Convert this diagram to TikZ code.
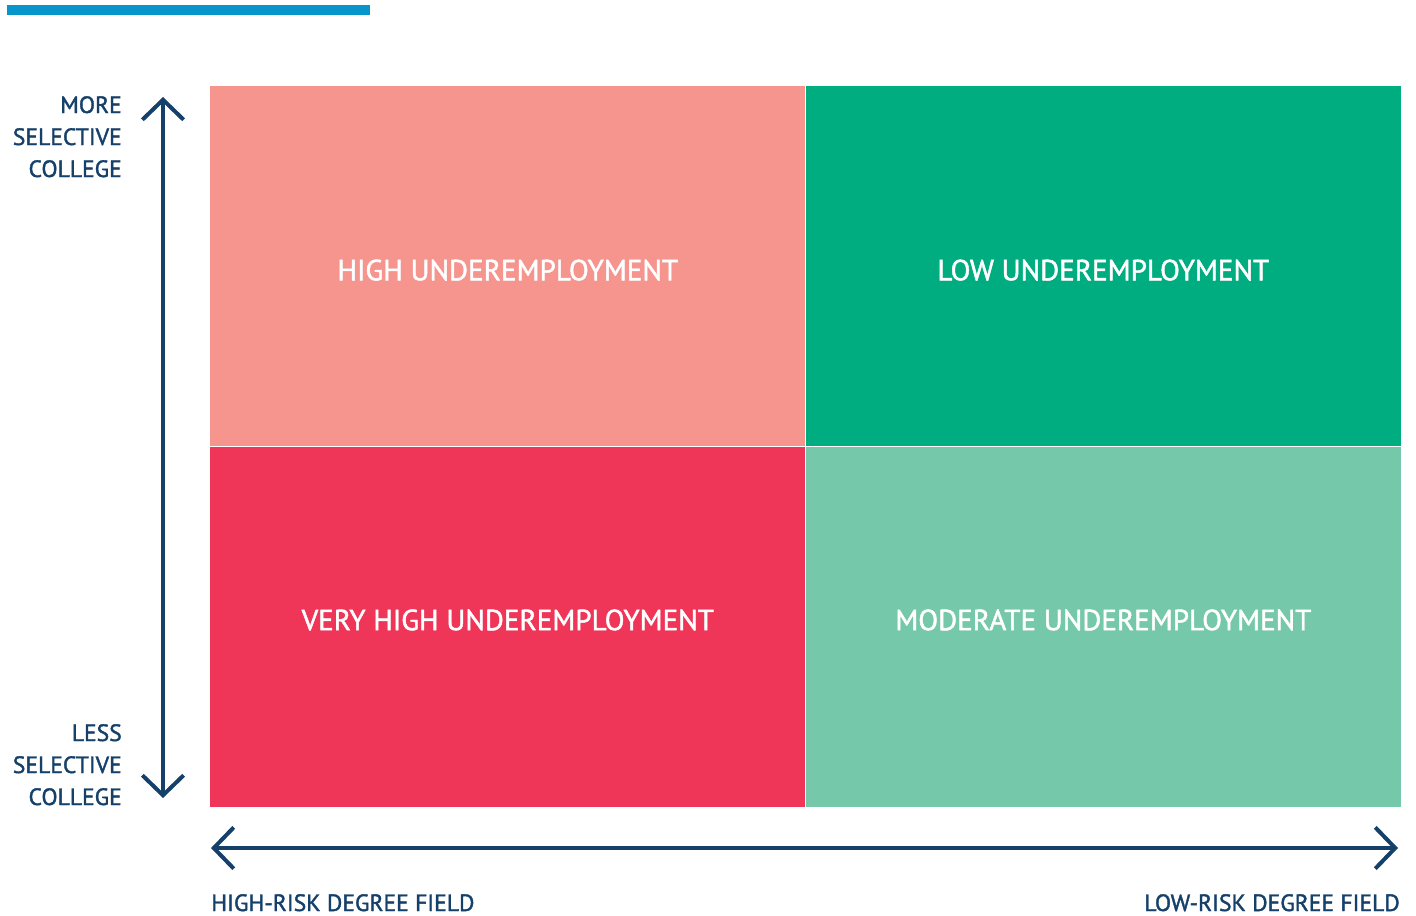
\documentclass[tikz,border=0pt]{standalone}
\usepackage{fontspec}
\setmainfont{PT Sans}
\newfontfamily\medfont{PT Sans}[FakeBold=1.6]
\usetikzlibrary{positioning,arrows.meta}

\definecolor{navy}{HTML}{15406A}
\definecolor{topbar}{HTML}{0696CC}
\definecolor{highcol}{HTML}{F6948E}
\definecolor{lowcol}{HTML}{00AD80}
\definecolor{veryhighcol}{HTML}{EF3558}
\definecolor{modcol}{HTML}{76C8AB}

\tikzset{
  quadrant/.style={rectangle, inner sep=0pt, minimum width=446.25pt,
    minimum height=270pt},
  quadtext/.style={text=white, inner sep=0pt, anchor=base, font=\medfont\fontsize{21.8}{24}\selectfont},
  axislabel/.style={text=navy, inner sep=0pt, font=\medfont\fontsize{17.7}{24}\selectfont},
  axis/.style={navy, line width=3pt,
    {Straight Barb[length=15pt,width=31pt,line width=3pt]}-{Straight Barb[length=15pt,width=31pt,line width=3pt]}}
}

\begin{document}
\begin{tikzpicture}[x=0.75pt,y=-0.75pt]
  % fix the visible area
  \useasboundingbox (0,0) rectangle (1416,915);

  % bar at the top
  \fill [topbar] (7,5) rectangle (370,15);

  % the four quadrants
  \node [quadrant, fill=highcol, anchor=north west] (high) at (210,86) {};
  \node [quadrant, fill=lowcol, right=0pt of high] (low) {};
  \node [quadrant, fill=veryhighcol, below=0pt of high] (veryhigh) {};
  \node [quadrant, fill=modcol, right=0pt of veryhigh] (moderate) {};

  % their texts
  \node [quadtext] (hightext) at ([yshift=-10.5pt]high.center) {HIGH UNDEREMPLOYMENT};
  \node [quadtext] (lowtext) at ([yshift=-10.5pt]low.center) {LOW UNDEREMPLOYMENT};
  \node [quadtext] (veryhightext) at ([yshift=-2.5pt]veryhigh.center) {VERY HIGH UNDEREMPLOYMENT};
  \node [quadtext] (moderatetext) at ([yshift=-2.5pt]moderate.center) {MODERATE UNDEREMPLOYMENT};

  % the axes
  \coordinate (ytop) at (163,97);
  \coordinate (ybot) at (163,798);
  \coordinate (xleft) at (211,848);
  \coordinate (xright) at (1398,848);
  \draw [axis] (ybot) -- (ytop);
  \draw [axis] (xleft) -- (xright);

  % axis labels
  \node [axislabel, anchor=base east, align=right] (more) at (122,177)
    {MORE\\SELECTIVE\\COLLEGE};
  \node [axislabel, anchor=base east, align=right] (less) at (122,805)
    {LESS\\SELECTIVE\\COLLEGE};
  \node [axislabel, anchor=base west] (highrisk) at (211,911) {HIGH-RISK DEGREE FIELD};
  \node [axislabel, anchor=base east] (lowrisk) at (1400,911) {LOW-RISK DEGREE FIELD};
\end{tikzpicture}
\end{document}
